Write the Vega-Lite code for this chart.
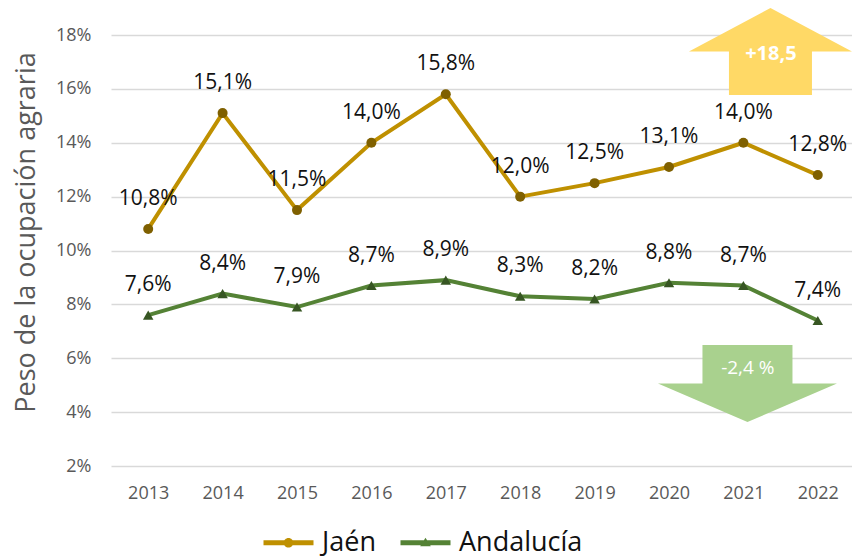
{
  "$schema": "https://vega.github.io/schema/vega-lite/v6.json",
  "width": 741,
  "height": 431,
  "autosize": "none",
  "padding": {"left": 111, "top": 35, "right": 0, "bottom": 93},
  "config": {
    "view": {"stroke": null},
    "font": "Open Sans",
    "locale": {"number": {"decimal": ",", "thousands": ".", "grouping": [3], "currency": ["", " €"]}}
  },
  "data": {
    "values": [
      {"year": 2013, "series": "Jaén", "value": 0.108},
      {"year": 2014, "series": "Jaén", "value": 0.151},
      {"year": 2015, "series": "Jaén", "value": 0.115},
      {"year": 2016, "series": "Jaén", "value": 0.140},
      {"year": 2017, "series": "Jaén", "value": 0.158},
      {"year": 2018, "series": "Jaén", "value": 0.120},
      {"year": 2019, "series": "Jaén", "value": 0.125},
      {"year": 2020, "series": "Jaén", "value": 0.131},
      {"year": 2021, "series": "Jaén", "value": 0.140},
      {"year": 2022, "series": "Jaén", "value": 0.128},
      {"year": 2013, "series": "Andalucía", "value": 0.076},
      {"year": 2014, "series": "Andalucía", "value": 0.084},
      {"year": 2015, "series": "Andalucía", "value": 0.079},
      {"year": 2016, "series": "Andalucía", "value": 0.087},
      {"year": 2017, "series": "Andalucía", "value": 0.089},
      {"year": 2018, "series": "Andalucía", "value": 0.083},
      {"year": 2019, "series": "Andalucía", "value": 0.082},
      {"year": 2020, "series": "Andalucía", "value": 0.088},
      {"year": 2021, "series": "Andalucía", "value": 0.087},
      {"year": 2022, "series": "Andalucía", "value": 0.074}
    ]
  },
  "encoding": {
    "x": {
      "field": "year", "type": "quantitative",
      "scale": {"domain": [2012.5, 2022.46], "nice": false, "zero": false},
      "axis": {"title": null, "values": [2013,2014,2015,2016,2017,2018,2019,2020,2021,2022], "format": "d", "grid": false, "ticks": false, "domain": false, "labelFont": "Open Sans", "labelFontSize": 18, "labelColor": "#595959", "labelPadding": 18}
    },
    "y": {
      "field": "value", "type": "quantitative",
      "scale": {"domain": [0.02, 0.18], "nice": false, "zero": false},
      "axis": {"title": "Peso de la ocupación agraria", "values": [0.02,0.04,0.06,0.08,0.10,0.12,0.14,0.16,0.18], "format": ".0%", "grid": true, "gridColor": "#D9D9D9", "gridWidth": 1.3, "ticks": false, "domain": false, "labelFont": "Open Sans", "labelFontSize": 18, "labelColor": "#595959", "labelPadding": 20, "titleFont": "Open Sans", "titleFontSize": 27, "titleFontWeight": "normal", "titleColor": "#595959", "titlePadding": 15, "titleY": 197}
    }
  },
  "layer": [
    {
      "transform": [{"filter": "datum.series === 'Jaén'"}],
      "mark": {"type": "line", "strokeWidth": 4, "color": "#BF9000"}
    },
    {
      "transform": [{"filter": "datum.series === 'Andalucía'"}],
      "mark": {"type": "line", "strokeWidth": 4, "color": "#548235"}
    },
    {
      "transform": [{"filter": "datum.series === 'Jaén'"}],
      "mark": {"type": "point", "shape": "circle", "filled": true, "size": 100, "fill": "#7F6000", "opacity": 1, "strokeWidth": 0}
    },
    {
      "transform": [{"filter": "datum.series === 'Andalucía'"}],
      "mark": {"type": "point", "shape": "triangle-up", "filled": true, "size": 110, "fill": "#375623", "opacity": 1, "strokeWidth": 0}
    },
    {
      "transform": [{"filter": "datum.year === 2021 && datum.series === 'Jaén'"}],
      "mark": {"type": "point", "shape": "M0,-0.87L1.63,0L0.83,0L0.83,0.87L-0.83,0.87L-0.83,0L-1.63,0Z", "size": 10000, "filled": true, "color": "#FFD966", "opacity": 1},
      "encoding": {"x": {"datum": 2021.364}, "y": {"datum": 0.17387}}
    },
    {
      "transform": [{"filter": "datum.year === 2021 && datum.series === 'Jaén'"}],
      "mark": {"type": "point", "shape": "M-0.9,-0.77L0.9,-0.77L0.9,0L1.79,0L0,0.77L-1.79,0L-0.9,0Z", "size": 10000, "filled": true, "color": "#A9D18E", "opacity": 1},
      "encoding": {"x": {"datum": 2021.055}, "y": {"datum": 0.05063}}
    },
    {
      "transform": [{"filter": "datum.year === 2021 && datum.series === 'Jaén'"}],
      "mark": {"type": "text", "text": "+18,5", "font": "Open Sans", "fontSize": 20, "fontWeight": "bold", "color": "#FFFFFF", "align": "center", "baseline": "middle"},
      "encoding": {"x": {"datum": 2021.37}, "y": {"datum": 0.1729}}
    },
    {
      "transform": [{"filter": "datum.year === 2021 && datum.series === 'Jaén'"}],
      "mark": {"type": "text", "text": "-2,4 %", "font": "Open Sans", "fontSize": 19, "color": "#FFFFFF", "align": "center", "baseline": "middle"},
      "encoding": {"x": {"datum": 2021.06}, "y": {"datum": 0.05638}}
    },
    {
      "mark": {"type": "text", "font": "Open Sans", "fontSize": 21, "color": "#111111", "align": "center", "baseline": "middle", "dy": -30},
      "encoding": {"text": {"field": "value", "type": "quantitative", "format": ".1%"}}
    },
    {
      "transform": [{"filter": "datum.year === 2013"}],
      "mark": {"type": "point", "filled": true, "opacity": 1, "size": 0},
      "encoding": {
        "fill": {"field": "series", "type": "nominal", "scale": {"domain": ["Jaén", "Andalucía"], "range": ["#BF9000", "#548235"]},
          "legend": {"title": null, "orient": "none", "legendX": 164, "legendY": 494, "direction": "horizontal", "symbolSize": 400, "labelFont": "Open Sans", "labelFontSize": 27, "labelColor": "#111111", "labelOffset": 20, "columnPadding": 24, "symbolStrokeWidth": 0, "symbolOpacity": 1, "padding": 0}},
        "shape": {"field": "series", "type": "nominal", "scale": {"domain": ["Jaén", "Andalucía"], "range": [
          "M-2.5,-0.25L-0.4,-0.25L-0.4,0.25L-2.5,0.25Z M0.48,0A0.48,0.48 0 1,1 -0.48,0A0.48,0.48 0 1,1 0.48,0Z M0.4,-0.25L2.5,-0.25L2.5,0.25L0.4,0.25Z",
          "M-2.5,-0.25L2.5,-0.25L2.5,0.25L-2.5,0.25Z M0,-0.5L0.53,0.35L-0.53,0.35Z"
        ]},
          "legend": {"title": null, "orient": "none", "legendX": 164, "legendY": 494, "direction": "horizontal", "symbolSize": 400, "labelFont": "Open Sans", "labelFontSize": 27, "labelColor": "#111111", "labelOffset": 20, "columnPadding": 24, "symbolStrokeWidth": 0, "symbolOpacity": 1, "padding": 0}}
      }
    }
  ]
}
